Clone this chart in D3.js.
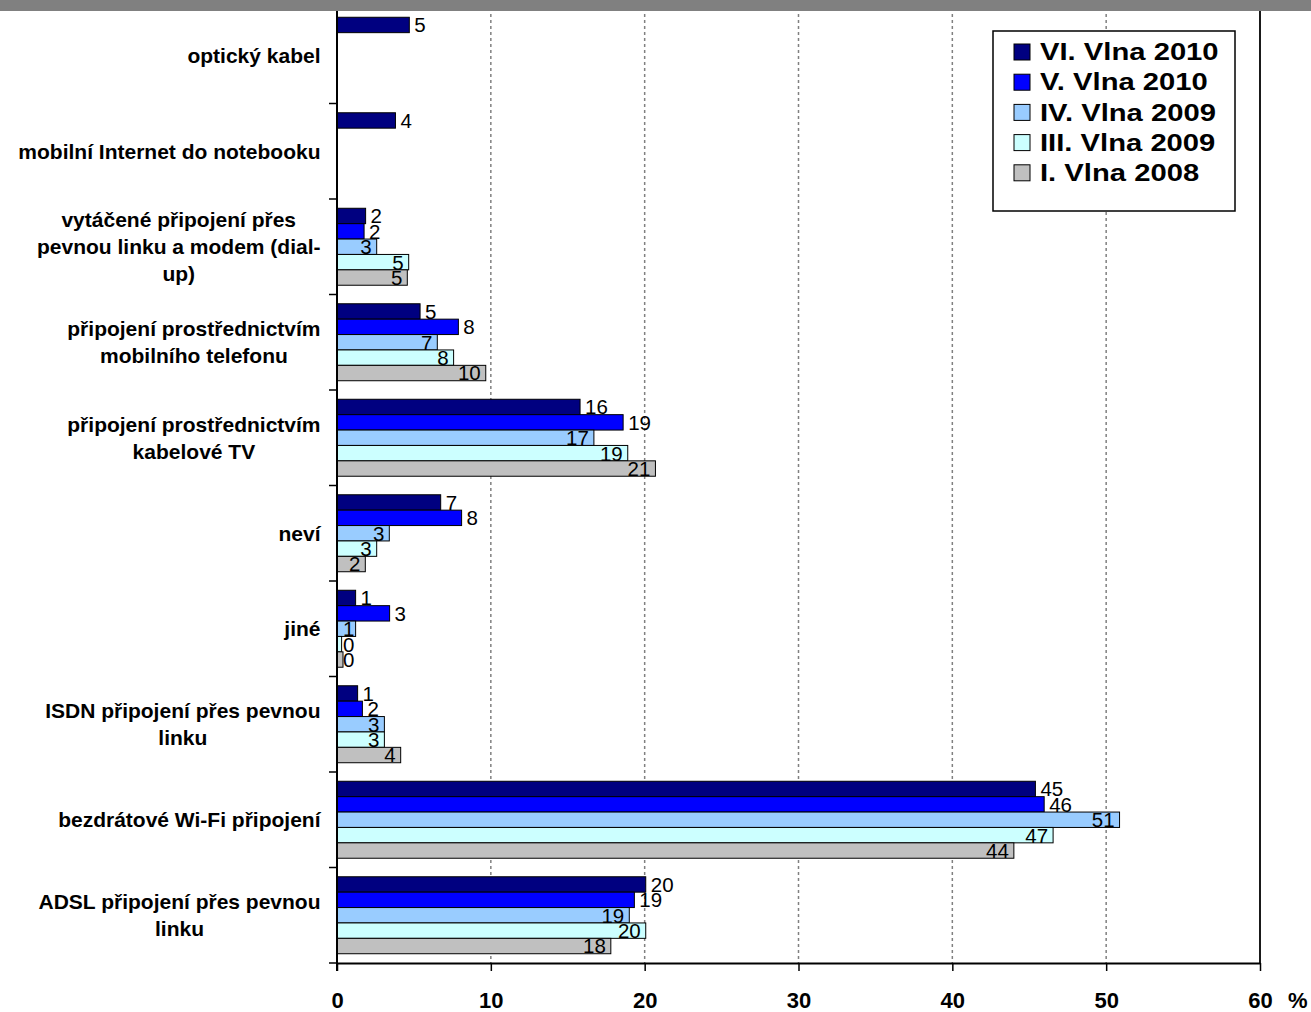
<!DOCTYPE html>
<html><head><meta charset="utf-8">
<script src="https://cdn.jsdelivr.net/npm/d3@7"></script>
<style>body{margin:0;background:#fff} svg{display:block}</style>
</head><body><svg id="c" width="1311" height="1012"></svg>
<script>
// ---- data (top to bottom as displayed) ----
const categories = [
  "optický kabel",
  "mobilní Internet do notebooku",
  "vytáčené připojení přes pevnou linku a modem (dial-up)",
  "připojení prostřednictvím mobilního telefonu",
  "připojení prostřednictvím kabelové TV",
  "neví",
  "jiné",
  "ISDN připojení přes pevnou linku",
  "bezdrátové Wi-Fi připojení",
  "ADSL připojení přes pevnou linku"
];
const categoryLines = [
  ["optický kabel"],
  ["mobilní Internet do notebooku"],
  ["vytáčené připojení přes", "pevnou linku a modem (dial-", "up)"],
  ["připojení prostřednictvím", "mobilního telefonu"],
  ["připojení prostřednictvím", "kabelové TV"],
  ["neví"],
  ["jiné"],
  ["ISDN připojení přes pevnou", "linku"],
  ["bezdrátové Wi-Fi připojení"],
  ["ADSL připojení přes pevnou", "linku"]
];
const seriesNames = ["VI. Vlna 2010", "V. Vlna 2010", "IV. Vlna 2009", "III. Vlna 2009", "I. Vlna 2008"];
const seriesColors = ["#000080", "#0000FF", "#99CCFF", "#CCFFFF", "#C0C0C0"];
const vlna6 = [4.7, 3.8, 1.86, 5.4, 15.8, 6.74, 1.21, 1.34, 45.4, 20.07];
const vlna5 = [null, null, 1.76, 7.89, 18.6, 8.1, 3.42, 1.65, 45.97, 19.33];
const vlna4 = [null, null, 2.58, 6.52, 16.7, 3.4, 1.21, 3.08, 50.87, 19.0];
const vlna3 = [null, null, 4.66, 7.58, 18.9, 2.58, 0.3, 3.08, 46.55, 20.07];
const vlna1 = [null, null, 4.57, 9.67, 20.7, 1.84, 0.39, 4.14, 44.0, 17.8];
const seriesValues = [vlna6, vlna5, vlna4, vlna3, vlna1];
const xTicks = [0, 10, 20, 30, 40, 50, 60];
const unitLabel = "%";

// ---- layout ----
const FONT = "'Liberation Sans', Arial, Helvetica, sans-serif";
const svg = d3.select("#c");
const X0 = 337, X1 = 1260, YT = 8, YB = 963;
const x = d3.scaleLinear().domain([0, 60]).range([X0, X1]);
const y0 = d3.scaleBand().domain(categories).range([YT, YB]);
const bw = y0.bandwidth();
const clusterFrac = 0.806;
const y1 = d3.scaleBand().domain(seriesNames)
  .range([(1 - clusterFrac) / 2 * bw, (1 + clusterFrac) / 2 * bw]);

// gridlines
svg.append("g").selectAll("line").data(xTicks.filter(t => t > 0 && t < 60)).join("line")
  .attr("x1", d => x(d)).attr("x2", d => x(d)).attr("y1", YT).attr("y2", YB)
  .attr("stroke", "#808080").attr("stroke-width", 1.5).attr("stroke-dasharray", "3,3");
// right border
svg.append("line").attr("x1", x(60)).attr("x2", x(60)).attr("y1", YT).attr("y2", YB)
  .attr("stroke", "#000").attr("stroke-width", 1.8);

// bars
const flat = [];
categories.forEach((c, ci) => seriesNames.forEach((s, si) => {
  const v = seriesValues[si][ci];
  if (v !== null && v !== undefined) flat.push({c, s, si, v});
}));
const gBars = svg.append("g");
gBars.selectAll("rect").data(flat).join("rect")
  .attr("x", x(0))
  .attr("y", d => y0(d.c) + y1(d.s))
  .attr("width", d => x(d.v) - x(0))
  .attr("height", y1.bandwidth())
  .attr("fill", d => seriesColors[d.si])
  .attr("stroke", "#000").attr("stroke-width", 1);

// value labels
const fmt = d3.format(".0f");
const gLab = svg.append("g").attr("font-family", FONT).attr("font-size", 20.5).attr("fill", "#000");
gLab.selectAll("text").data(flat).join("text")
  .attr("y", d => y0(d.c) + y1(d.s) + y1.bandwidth() / 2)
  .attr("dy", "0.36em")
  .text(d => fmt(d.v))
  .each(function (d) {
    const t = d3.select(this);
    const end = x(d.v);
    if (d.si < 2) {
      t.attr("text-anchor", "start").attr("x", end + 5);
    } else {
      const w = this.getComputedTextLength();
      t.attr("text-anchor", "end").attr("x", Math.max(end - 5, x(0) + 6 + w));
    }
  });

// x axis
const xAxis = svg.append("g").attr("transform", `translate(0,${YB})`)
  .call(d3.axisBottom(x).tickValues(xTicks).tickSize(8).tickPadding(21).tickSizeOuter(0));
xAxis.select(".domain").attr("stroke", "#000").attr("stroke-width", 2);
xAxis.selectAll(".tick line").attr("stroke", "#000").attr("stroke-width", 1.5);
xAxis.selectAll(".tick text").attr("font-family", FONT).attr("font-size", 22)
  .attr("font-weight", "bold").attr("fill", "#000");
svg.append("text").attr("x", 1288).attr("y", 1008).text(unitLabel)
  .attr("font-family", FONT).attr("font-size", 22).attr("font-weight", "bold");

// y axis (line + boundary ticks)
svg.append("line").attr("x1", X0).attr("x2", X0).attr("y1", YT).attr("y2", YB + 8)
  .attr("stroke", "#000").attr("stroke-width", 2);
const bounds = d3.range(categories.length + 1).map(i => YT + i * y0.step());
svg.append("g").selectAll("line").data(bounds).join("line")
  .attr("x1", X0 - 8).attr("x2", X0).attr("y1", d => d).attr("y2", d => d)
  .attr("stroke", "#000").attr("stroke-width", 1.5);

// category labels
const LH = 27, RIGHT = 320.5;
const gCat = svg.append("g").attr("font-family", FONT).attr("font-size", 21)
  .attr("font-weight", "bold").attr("fill", "#000");
categories.forEach((c, ci) => {
  const lines = categoryLines[ci];
  const cy = y0(c) + bw / 2;
  const grp = gCat.append("g");
  const texts = lines.map((ln, li) => grp.append("text")
    .attr("y", cy + (li - (lines.length - 1) / 2) * LH)
    .attr("dy", "0.36em").attr("text-anchor", "middle").text(ln));
  const maxW = d3.max(texts, t => t.node().getComputedTextLength());
  texts.forEach(t => t.attr("x", RIGHT - maxW / 2));
});

// legend
const lg = svg.append("g");
lg.append("rect").attr("x", 993).attr("y", 31).attr("width", 242).attr("height", 180)
  .attr("fill", "#fff").attr("stroke", "#000").attr("stroke-width", 1.5);
seriesNames.forEach((s, i) => {
  const cy = 52 + i * 30.2;
  lg.append("rect").attr("x", 1014).attr("y", cy - 8).attr("width", 16).attr("height", 16)
    .attr("fill", seriesColors[i]).attr("stroke", "#000").attr("stroke-width", 1);
  const t = lg.append("text").attr("x", 1040).attr("y", cy).attr("dy", "0.36em")
    .attr("font-family", FONT).attr("font-size", 23).attr("font-weight", "bold").text(s);
  const w = t.node().getComputedTextLength();
  t.attr("textLength", w * 1.27).attr("lengthAdjust", "spacingAndGlyphs");
});

// top grey band
svg.append("rect").attr("x", 0).attr("y", 0).attr("width", 1311).attr("height", 11).attr("fill", "#808080");
</script></body></html>
